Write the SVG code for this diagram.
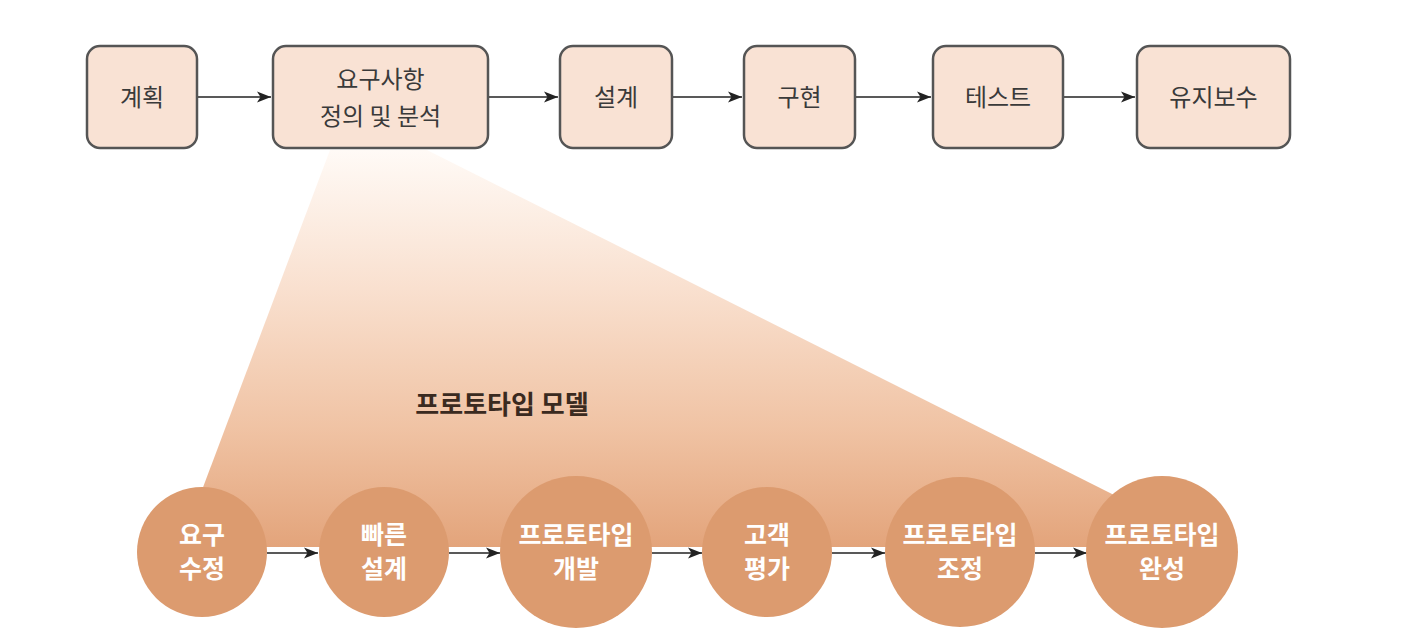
<svg xmlns="http://www.w3.org/2000/svg" width="1415" height="640" viewBox="0 0 1415 640">
<defs>
<linearGradient id="fan" x1="0" y1="150" x2="0" y2="547" gradientUnits="userSpaceOnUse">
<stop offset="0" stop-color="#fffaf6"/>
<stop offset="0.35" stop-color="#f9e0cf"/>
<stop offset="0.7" stop-color="#f0c3a4"/>
<stop offset="1" stop-color="#e3a47b"/>
</linearGradient>
<marker id="ah" viewBox="0 0 14 12" refX="14" refY="6" markerWidth="14" markerHeight="12" markerUnits="userSpaceOnUse" orient="auto">
<path d="M0,0.5 L14,6 L0,11.5 L3.5,6 Z" fill="#222"/>
</marker>
<style>
.box{fill:#f9e2d4;stroke:#555;stroke-width:2.5}
.bt{font-family:"Noto Sans CJK KR","Noto Sans",sans-serif;font-size:24px;fill:#3a3a3a;text-anchor:middle}
.cir{fill:#dc9b6f}
.ct{font-family:"Noto Sans CJK KR","Noto Sans",sans-serif;font-size:25px;font-weight:bold;fill:#fff;text-anchor:middle}
.title{font-family:"Noto Sans CJK KR","Noto Sans",sans-serif;font-size:26px;font-weight:bold;fill:#3a2a20;text-anchor:middle}
.con{stroke:#222;stroke-width:1.6;fill:none;marker-end:url(#ah)}
</style>
</defs>
<rect width="1415" height="640" fill="#fff"/>
<polygon id="fan-shape" points="330,150 427,150 1118,497 1100,547 205,547 202,490" fill="url(#fan)"/>
<text class="title" x="502" y="414">프로토타입 모델</text>
<g id="connectors">
<line class="con" x1="197" y1="97" x2="271" y2="97"/>
<line class="con" x1="488" y1="97" x2="558" y2="97"/>
<line class="con" x1="672" y1="97" x2="742" y2="97"/>
<line class="con" x1="855" y1="97" x2="931" y2="97"/>
<line class="con" x1="1063" y1="97" x2="1135" y2="97"/>
<line class="con" x1="267" y1="553" x2="318" y2="553"/>
<line class="con" x1="449" y1="553" x2="500" y2="553"/>
<line class="con" x1="652" y1="553" x2="702" y2="553"/>
<line class="con" x1="832" y1="553" x2="885" y2="553"/>
<line class="con" x1="1035" y1="553" x2="1087" y2="553"/>
</g>
<g id="n-plan"><rect class="box" x="87" y="46" width="110" height="102" rx="13"/><text class="bt" x="142" y="106">계획</text></g>
<g id="n-req"><rect class="box" x="273" y="46" width="215" height="102" rx="13"/><text class="bt" x="380.5" y="88">요구사항</text><text class="bt" x="380.5" y="125">정의 및 분석</text></g>
<g id="n-design"><rect class="box" x="560" y="46" width="112" height="102" rx="13"/><text class="bt" x="616" y="106">설계</text></g>
<g id="n-impl"><rect class="box" x="744" y="46" width="111" height="102" rx="13"/><text class="bt" x="799.5" y="106">구현</text></g>
<g id="n-test"><rect class="box" x="933" y="46" width="130" height="102" rx="13"/><text class="bt" x="998" y="106">테스트</text></g>
<g id="n-maint"><rect class="box" x="1137" y="46" width="153" height="102" rx="13"/><text class="bt" x="1213.5" y="106">유지보수</text></g>
<g id="c1"><circle class="cir" cx="202" cy="552" r="65"/><text class="ct" x="202" y="544">요구</text><text class="ct" x="202" y="578">수정</text></g>
<g id="c2"><circle class="cir" cx="384" cy="552" r="65"/><text class="ct" x="384" y="544">빠른</text><text class="ct" x="384" y="578">설계</text></g>
<g id="c3"><circle class="cir" cx="576" cy="552" r="76"/><text class="ct" x="576" y="544">프로토타입</text><text class="ct" x="576" y="578">개발</text></g>
<g id="c4"><circle class="cir" cx="767" cy="552" r="65"/><text class="ct" x="767" y="544">고객</text><text class="ct" x="767" y="578">평가</text></g>
<g id="c5"><circle class="cir" cx="960" cy="552" r="75"/><text class="ct" x="960" y="544">프로토타입</text><text class="ct" x="960" y="578">조정</text></g>
<g id="c6"><circle class="cir" cx="1162" cy="552" r="76"/><text class="ct" x="1162" y="544">프로토타입</text><text class="ct" x="1162" y="578">완성</text></g>
</svg>
